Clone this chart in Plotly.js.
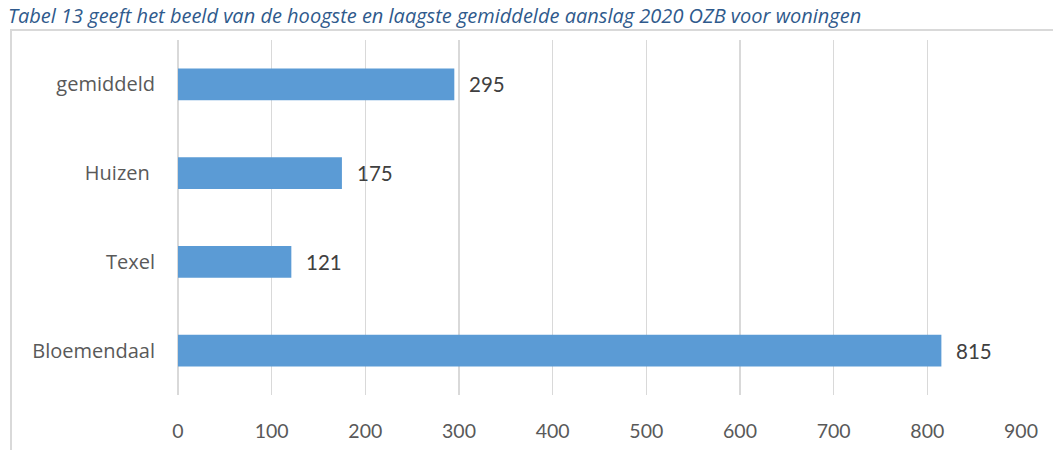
<!DOCTYPE html>
<html>
<head>
<meta charset="utf-8">
<script src="https://cdn.plot.ly/plotly-3.0.1.min.js"></script>
<style>
html,body{margin:0;padding:0;background:#fff;}
#chart{width:1053px;height:450px;}
</style>
</head>
<body>
<div id="chart"></div>
<script>
const categories = ["Bloemendaal", "Texel", "Huizen\u00a0", "gemiddeld"];
const values = [815, 121, 175, 295];
const xTicks = [0, 100, 200, 300, 400, 500, 600, 700, 800, 900];
const titleText = "Tabel 13 geeft het beeld van de hoogste en laagste gemiddelde aanslag 2020 OZB voor woningen";

const FONT = "Lato, 'Open Sans', sans-serif";
const FONT2 = "'Open Sans', Lato, sans-serif";
const W = 1053, H = 450;
const L = 178, R = 32, T = 40, B = 55;
const pw = W - L - R, ph = H - T - B;
const px2x = p => (p - L) / pw;
const py2y = p => (H - B - p) / ph;

const trace = {
  type: "bar",
  orientation: "h",
  y: categories,
  x: values,
  marker: {color: "#5B9BD5"},
  hoverinfo: "x+y"
};

const annotations = values.map((v, i) => ({
  x: v, y: categories[i], xref: "x", yref: "y",
  text: String(v), showarrow: false,
  xanchor: "left", yanchor: "middle", xshift: 13,
  font: {family: FONT, size: 20.5, color: "#404040"}
}));

annotations.push({
  text: titleText,
  xref: "paper", yref: "paper",
  x: px2x(6), y: py2y(0),
  xanchor: "left", yanchor: "top",
  showarrow: false,
  font: {family: FONT2, size: 20, color: "#2F5A8C", style: "italic"}
});

const layout = {
  width: W, height: H,
  margin: {l: L, r: R, t: T, b: B},
  paper_bgcolor: "#fff", plot_bgcolor: "#fff",
  showlegend: false,
  bargap: 0.64,
  xaxis: {
    range: [0, 900],
    tickvals: xTicks,
    ticktext: xTicks.map(String),
    showgrid: true, gridcolor: "#d9d9d9", gridwidth: 1.3,
    zeroline: true, zerolinecolor: "#d9d9d9", zerolinewidth: 1.3,
    showline: false, ticks: "",
    ticklabelstandoff: 22,
    tickfont: {family: FONT, size: 19.5, color: "#595959"},
    fixedrange: true
  },
  yaxis: {
    type: "category",
    categoryorder: "array", categoryarray: categories,
    showgrid: false, zeroline: false, showline: false, ticks: "",
    ticklabelstandoff: 22,
    tickfont: {family: FONT2, size: 20, color: "#595959"},
    fixedrange: true
  },
  annotations: annotations,
  shapes: [{
    type: "rect", xref: "paper", yref: "paper", layer: "below",
    x0: px2x(11), x1: px2x(1100),
    y0: py2y(520), y1: py2y(30),
    line: {color: "#d9d9d9", width: 2}, fillcolor: "rgba(0,0,0,0)"
  }]
};

Plotly.newPlot("chart", [trace], layout, {displayModeBar: false, staticPlot: true});
</script>
</body>
</html>
